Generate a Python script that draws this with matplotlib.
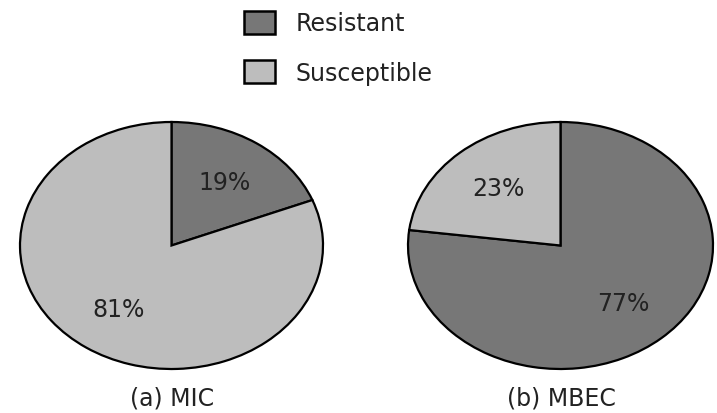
import matplotlib
matplotlib.use("Agg")
import matplotlib.pyplot as plt
from matplotlib.patches import Patch

categories = ["Resistant", "Susceptible"]
mic_values = [19, 81]
mbec_values = [77, 23]
panel_titles = ["(a) MIC", "(b) MBEC"]

colors = ["#777777", "#bdbdbd"]

W, H = 717, 414
fig = plt.figure(figsize=(W / 100, H / 100), dpi=100)
plt.rcParams["font.family"] = "DejaVu Sans"
FS = 17

# pixel boxes (left, top, right, bottom) of each pie
boxes = [(20, 123, 323, 370), (408, 123, 713, 370)]
centers_x = [172, 561]

for vals, title, (l, t, r, b), cx in zip([mic_values, mbec_values], panel_titles, boxes, centers_x):
    ax = fig.add_axes([l / W, 1 - b / H, (r - l) / W, (b - t) / H])
    wedges, texts, autotexts = ax.pie(
        vals, colors=colors, startangle=90, counterclock=False,
        autopct="%d%%", pctdistance=0.62,
        wedgeprops=dict(edgecolor="black", linewidth=1.6, clip_on=False),
        textprops=dict(fontsize=FS, color="#222222"),
    )
    ax.set_aspect("auto")
    ax.set_xlim(-1, 1)
    ax.set_ylim(-1, 1)
    ax.axis("off")
    fig.text(cx / W, 1 - 399 / H, title, ha="center", va="center",
             fontsize=FS, color="#222222")

handles = [Patch(facecolor=c, edgecolor="black", linewidth=1.8) for c in colors]
fig.legend(handles, categories, loc="upper left",
           bbox_to_anchor=(244 / W, 1 - 12 / H), frameon=False,
           fontsize=FS, handlelength=1.3, handleheight=1.1,
           handletextpad=0.9, labelspacing=1.05, borderpad=0, borderaxespad=0,
           labelcolor="#222222")

fig.savefig("out.png", dpi=100, facecolor="white")
